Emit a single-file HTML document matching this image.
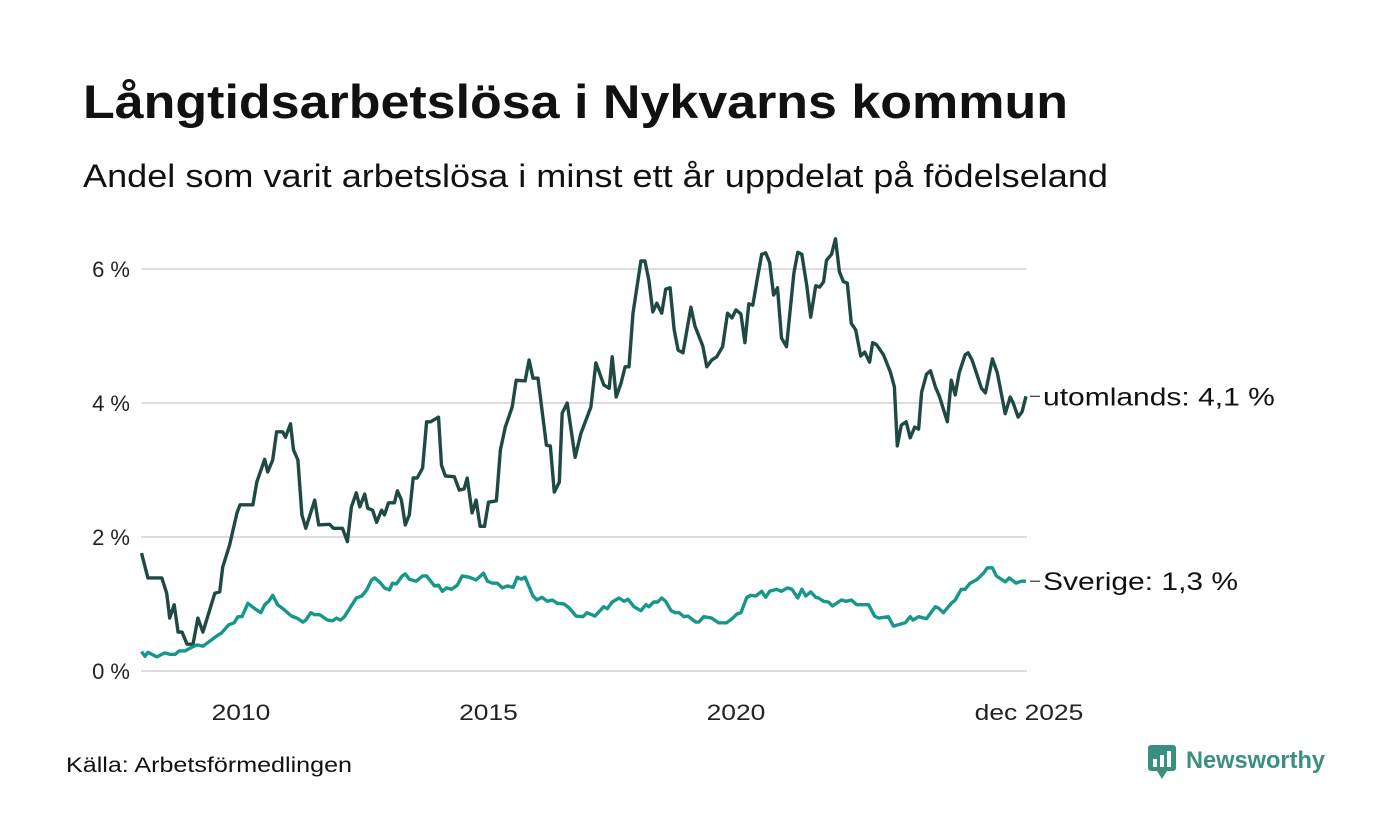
<!DOCTYPE html>
<html><head><meta charset="utf-8"><style>
html,body{margin:0;padding:0;background:#fff;}
svg{display:block;font-family:"Liberation Sans",sans-serif;}
</style></head><body>
<svg id="chart" width="1400" height="840" viewBox="0 0 1400 840">
<text x="83" y="118" font-size="47" font-weight="bold" fill="#111" textLength="985" lengthAdjust="spacingAndGlyphs">Långtidsarbetslösa i Nykvarns kommun</text>
<text x="83" y="187" font-size="32" fill="#111" textLength="1025" lengthAdjust="spacingAndGlyphs">Andel som varit arbetslösa i minst ett år uppdelat på födelseland</text>
<g id="grid"></g>
<g id="yticks"></g>
<g id="xticks"></g>
<g id="series"></g>
<text x="66" y="772" font-size="21" fill="#111" textLength="286" lengthAdjust="spacingAndGlyphs">Källa: Arbetsförmedlingen</text>
<g>
<rect x="1148" y="745" width="28" height="26" rx="3" fill="#3a8f7f"/>
<path d="M1157 771 L1162 779 L1167 771 Z" fill="#3a8f7f"/>
<rect x="1153" y="759" width="4" height="8" fill="#fff"/>
<rect x="1160" y="755" width="4" height="12" fill="#fff"/>
<rect x="1167" y="751" width="4" height="16" fill="#fff"/>
<text x="1186" y="768" font-size="24" font-weight="bold" fill="#3a8f7f" textLength="139" lengthAdjust="spacingAndGlyphs">Newsworthy</text>
</g>
</svg>
<script>
const yTicks=[0,2,4,6];
const yTickLabels=["0 %","2 %","4 %","6 %"];
const xTicks=[2010,2015,2020,2025.92];
const xTickLabels=["2010","2015","2020","dec 2025"];
const seriesNames=["utomlands","Sverige"];
const seriesLabels=["utomlands: 4,1 %","Sverige: 1,3 %"];
const utDates=[2008.01,2008.14,2008.42,2008.52,2008.58,2008.67,2008.75,2008.83,2008.93,2009.05,2009.15,2009.25,2009.49,2009.59,2009.65,2009.79,2009.94,2010.00,2010.26,2010.34,2010.50,2010.56,2010.66,2010.74,2010.86,2010.92,2011.02,2011.08,2011.17,2011.25,2011.33,2011.51,2011.59,2011.81,2011.89,2012.07,2012.17,2012.25,2012.35,2012.42,2012.52,2012.58,2012.68,2012.76,2012.86,2012.92,2013.00,2013.12,2013.18,2013.26,2013.34,2013.42,2013.50,2013.58,2013.69,2013.77,2013.85,2014.01,2014.07,2014.15,2014.33,2014.43,2014.53,2014.59,2014.69,2014.77,2014.85,2014.94,2015.02,2015.18,2015.26,2015.36,2015.50,2015.58,2015.76,2015.84,2015.92,2016.02,2016.19,2016.27,2016.35,2016.45,2016.51,2016.61,2016.77,2016.89,2017.09,2017.19,2017.35,2017.46,2017.52,2017.60,2017.70,2017.78,2017.86,2017.94,2018.10,2018.18,2018.26,2018.34,2018.42,2018.52,2018.60,2018.69,2018.77,2018.85,2018.95,2019.11,2019.19,2019.35,2019.43,2019.53,2019.63,2019.75,2019.85,2019.94,2020.02,2020.12,2020.20,2020.28,2020.36,2020.44,2020.54,2020.62,2020.70,2020.78,2020.86,2020.94,2021.04,2021.19,2021.27,2021.35,2021.45,2021.53,2021.63,2021.71,2021.79,2021.85,2021.95,2022.03,2022.11,2022.19,2022.27,2022.35,2022.44,2022.54,2022.62,2022.72,2022.78,2022.86,2023.00,2023.14,2023.22,2023.28,2023.36,2023.46,2023.54,2023.63,2023.71,2023.77,2023.87,2023.95,2024.05,2024.13,2024.29,2024.37,2024.45,2024.53,2024.65,2024.71,2024.79,2024.98,2025.06,2025.20,2025.30,2025.46,2025.56,2025.62,2025.72,2025.80,2025.88];
const utValues=[1.76,1.39,1.39,1.16,0.79,0.99,0.58,0.58,0.40,0.40,0.79,0.58,1.16,1.18,1.55,1.88,2.36,2.48,2.48,2.82,3.16,2.97,3.15,3.57,3.57,3.49,3.69,3.30,3.15,2.33,2.13,2.55,2.18,2.19,2.13,2.13,1.93,2.45,2.66,2.45,2.64,2.43,2.40,2.22,2.40,2.33,2.51,2.51,2.69,2.55,2.18,2.33,2.88,2.88,3.03,3.72,3.72,3.79,3.07,2.91,2.90,2.70,2.72,2.88,2.36,2.55,2.16,2.16,2.52,2.54,3.30,3.64,3.94,4.34,4.33,4.64,4.37,4.37,3.37,3.36,2.67,2.82,3.85,4.00,3.19,3.55,3.94,4.60,4.27,4.22,4.69,4.09,4.30,4.54,4.54,5.34,6.12,6.12,5.84,5.36,5.49,5.34,5.70,5.72,5.10,4.79,4.75,5.43,5.15,4.85,4.54,4.64,4.69,4.84,5.34,5.27,5.39,5.33,4.90,5.48,5.46,5.81,6.22,6.24,6.10,5.61,5.72,4.97,4.84,5.94,6.25,6.22,5.76,5.28,5.75,5.73,5.81,6.13,6.22,6.45,5.96,5.81,5.79,5.19,5.09,4.70,4.76,4.61,4.90,4.87,4.72,4.46,4.24,3.36,3.67,3.72,3.48,3.64,3.61,4.16,4.43,4.48,4.24,4.10,3.72,4.34,4.12,4.45,4.72,4.75,4.64,4.22,4.15,4.66,4.45,3.84,4.09,4.00,3.79,3.87,4.10];
const seDates=[2008.01,2008.08,2008.14,2008.32,2008.48,2008.58,2008.69,2008.77,2008.89,2008.99,2009.13,2009.25,2009.51,2009.63,2009.77,2009.88,2009.96,2010.04,2010.16,2010.30,2010.42,2010.50,2010.58,2010.66,2010.76,2010.90,2011.04,2011.15,2011.27,2011.33,2011.43,2011.51,2011.61,2011.77,2011.87,2011.95,2012.03,2012.11,2012.35,2012.46,2012.56,2012.66,2012.72,2012.82,2012.92,2013.02,2013.08,2013.16,2013.28,2013.34,2013.42,2013.56,2013.69,2013.77,2013.93,2014.01,2014.09,2014.17,2014.27,2014.39,2014.49,2014.63,2014.77,2014.92,2015.00,2015.10,2015.20,2015.30,2015.40,2015.52,2015.60,2015.68,2015.76,2015.92,2016.00,2016.10,2016.21,2016.31,2016.41,2016.55,2016.65,2016.79,2016.93,2017.01,2017.17,2017.35,2017.42,2017.52,2017.66,2017.76,2017.84,2017.96,2018.10,2018.20,2018.26,2018.36,2018.44,2018.52,2018.60,2018.71,2018.79,2018.87,2018.97,2019.05,2019.21,2019.27,2019.37,2019.53,2019.67,2019.83,2019.94,2020.04,2020.12,2020.24,2020.32,2020.42,2020.54,2020.62,2020.70,2020.84,2020.94,2021.06,2021.15,2021.27,2021.35,2021.43,2021.53,2021.63,2021.69,2021.79,2021.89,2021.97,2022.15,2022.25,2022.35,2022.46,2022.62,2022.70,2022.82,2022.90,2023.10,2023.20,2023.44,2023.54,2023.60,2023.71,2023.87,2024.05,2024.11,2024.21,2024.37,2024.45,2024.57,2024.65,2024.75,2024.88,2025.02,2025.10,2025.20,2025.28,2025.46,2025.54,2025.68,2025.78,2025.88];
const seValues=[0.29,0.22,0.28,0.21,0.27,0.25,0.25,0.30,0.30,0.34,0.39,0.37,0.51,0.57,0.69,0.72,0.81,0.81,1.01,0.93,0.87,0.99,1.04,1.13,0.99,0.91,0.82,0.79,0.73,0.76,0.87,0.84,0.84,0.76,0.75,0.79,0.76,0.81,1.09,1.12,1.21,1.36,1.39,1.33,1.24,1.21,1.31,1.30,1.42,1.45,1.37,1.34,1.42,1.42,1.27,1.28,1.19,1.24,1.22,1.28,1.42,1.40,1.36,1.46,1.34,1.31,1.31,1.24,1.27,1.25,1.40,1.37,1.40,1.12,1.06,1.10,1.04,1.06,1.01,1.00,0.94,0.82,0.81,0.87,0.82,0.96,0.93,1.03,1.09,1.04,1.07,0.96,0.90,0.99,0.96,1.03,1.03,1.09,1.04,0.90,0.87,0.87,0.81,0.82,0.73,0.73,0.81,0.79,0.72,0.72,0.78,0.85,0.87,1.10,1.13,1.12,1.19,1.10,1.19,1.22,1.19,1.24,1.22,1.09,1.22,1.12,1.18,1.10,1.09,1.04,1.03,0.97,1.06,1.04,1.06,0.99,0.99,0.99,0.82,0.79,0.81,0.67,0.72,0.81,0.76,0.81,0.78,0.96,0.94,0.87,1.01,1.06,1.22,1.22,1.31,1.36,1.46,1.54,1.54,1.42,1.33,1.39,1.31,1.34,1.34];

const NS="http://www.w3.org/2000/svg";
const X0=141,X1=1028,D0=2008.0,D1=2025.92,Y0=671,PXPER=67;
function xScale(d){return X0+(d-D0)/(D1-D0)*(X1-X0);}
function yScale(v){return Y0-v*PXPER;}
function mk(tag,attrs,parent){const e=document.createElementNS(NS,tag);for(const k in attrs)e.setAttribute(k,attrs[k]);parent.appendChild(e);return e;}
function widen(t,f){const w=t.getComputedTextLength();t.setAttribute('textLength',(w*f).toFixed(1));t.setAttribute('lengthAdjust','spacingAndGlyphs');}
const grid=document.getElementById('grid'),yt=document.getElementById('yticks'),xt=document.getElementById('xticks'),ser=document.getElementById('series');
yTicks.forEach((v,i)=>{
  const l=mk('line',{x1:X0,x2:1027,y1:yScale(v),y2:yScale(v),stroke:'#dcdcdc','stroke-width':2},grid);
  
  
  const t=mk('text',{x:130,y:yScale(v)+8,'text-anchor':'end','font-size':22,fill:'#222'},yt);
  t.textContent=yTickLabels[i];
  
  
});
xTicks.forEach((d,i)=>{
  const t=mk('text',{x:xScale(d)+1,y:720,'text-anchor':'middle','font-size':22,fill:'#222'},xt);
  t.textContent=xTickLabels[i];
  
  
  widen(t,1.2);
});
function drawLine(dates,vals,color,name,label){
  const pts=dates.map((d,i)=>xScale(d).toFixed(1)+','+yScale(vals[i]).toFixed(1)).join(' ');
  const p=mk('polyline',{points:pts,fill:'none',stroke:color,'stroke-width':3.4,'stroke-linejoin':'round'},ser);
  
  
  const ly=yScale(vals[vals.length-1]);
  const lx=xScale(dates[dates.length-1]);
  const ll=mk('line',{x1:lx+4,x2:lx+14,y1:ly,y2:ly,stroke:'#333','stroke-width':1.2},ser);
  
  
  const t=mk('text',{x:lx+17,y:ly+9,'font-size':25,fill:'#111'},ser);
  t.textContent=label;
  
  
  widen(t,1.2);
}
drawLine(utDates,utValues,'#1f4a44',seriesNames[0],seriesLabels[0]);
drawLine(seDates,seValues,'#16978a',seriesNames[1],seriesLabels[1]);
</script>
</body></html>
